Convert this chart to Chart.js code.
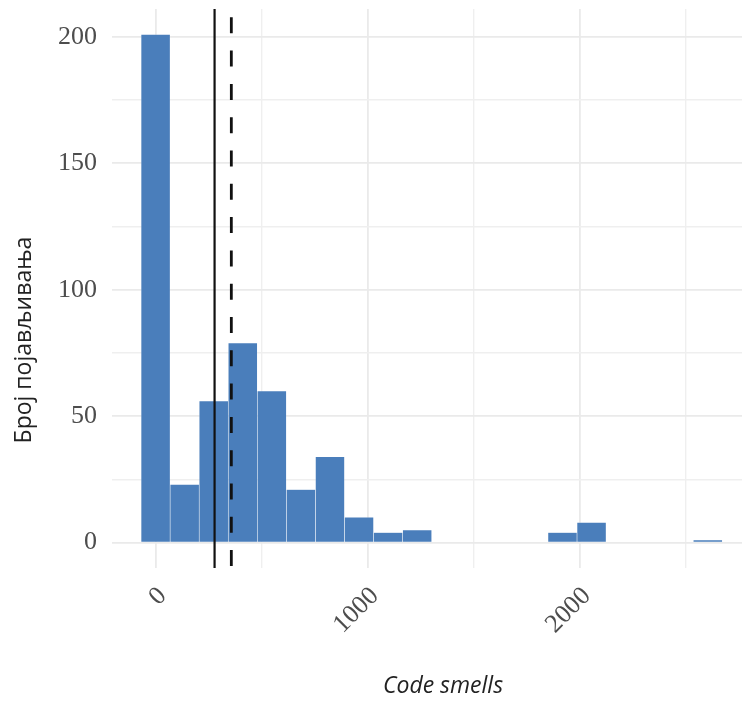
<!DOCTYPE html>
<html><head><meta charset="utf-8">
<script src="https://cdn.jsdelivr.net/npm/chart.js@4/dist/chart.umd.min.js"></script>
<style>html,body{margin:0;padding:0;overflow:hidden;background:#fff;width:742px;height:702px}canvas{display:block}</style>
</head><body>
<canvas id="c" width="774" height="702"></canvas>
<script>
// Histogram bins (centres) and counts
const binCenters = [0, 137, 274, 411, 548, 685, 822, 959, 1096, 1233, 1370, 1507, 1644, 1781, 1918, 2055, 2192, 2329, 2466, 2603];
const binCounts  = [201, 23, 56, 79, 60, 21, 34, 10, 4, 5, 0, 0, 0, 0, 4, 8, 0, 0, 0, 1];
const medianValue = 278;   // solid line
const meanValue = 357;     // dashed line
const xGridValues = [0, 500, 1000, 1500, 2000, 2500];
const xLabelValues = [0, 1000, 2000];
const yGridValues = [0, 25, 50, 75, 100, 125, 150, 175, 200];
const yLabelValues = [0, 50, 100, 150, 200];
const xTitle = 'Code smells';
const yTitle = 'Број појављивања';

const refLines = {
  id: 'refLines',
  afterDatasetsDraw(chart) {
    const {ctx, chartArea: {top, bottom}, scales: {x}} = chart;
    ctx.save();
    ctx.strokeStyle = '#111';
    ctx.lineWidth = 2.2;
    let px = x.getPixelForValue(medianValue);
    ctx.beginPath(); ctx.moveTo(px, top); ctx.lineTo(px, bottom); ctx.stroke();
    ctx.lineWidth = 2.8;
    ctx.setLineDash([16, 17.3]);
    ctx.lineDashOffset = 25;
    px = x.getPixelForValue(meanValue);
    ctx.beginPath(); ctx.moveTo(px, top); ctx.lineTo(px, bottom); ctx.stroke();
    ctx.restore();
  }
};

const yTitlePlugin = {
  id: 'yTitlePlugin',
  afterDraw(chart) {
    const ctx = chart.ctx;
    ctx.save();
    ctx.translate(24, 340);
    ctx.rotate(-Math.PI / 2);
    ctx.textAlign = 'center';
    ctx.textBaseline = 'middle';
    ctx.fillStyle = '#222';
    ctx.font = '23px "Open Sans", sans-serif';
    ctx.fillText(yTitle, 0, 0);
    ctx.restore();
  }
};

new Chart(document.getElementById('c'), {
  type: 'bar',
  data: {
    datasets: [{
      data: binCenters.map((c, i) => ({x: c, y: binCounts[i]})),
      backgroundColor: '#4a7ebb',
      borderColor: 'rgba(255,255,255,0.25)',
      borderWidth: 0.6,
      barPercentage: 1,
      categoryPercentage: 1
    }]
  },
  options: {
    responsive: false,
    animation: false,
    events: [],
    layout: {padding: {top: 9, left: 0, right: 0, bottom: 0}},
    plugins: {legend: {display: false}, tooltip: {enabled: false}},
    scales: {
      x: {
        type: 'linear',
        offset: false,
        min: -205.5,
        max: 2915,
        afterBuildTicks: s => { s.ticks = xGridValues.map(v => ({value: v})); },
        afterFit: s => { s.height = 134; s.paddingLeft = 0; s.paddingRight = 0; },
        border: {display: false},
        grid: {
          offset: false,
          drawTicks: false,
          color: c => xLabelValues.includes(c.tick && c.tick.value) ? '#eaeaea' : '#efefef',
          lineWidth: c => xLabelValues.includes(c.tick && c.tick.value) ? 1.8 : 1.4
        },
        ticks: {
          autoSkip: false,
          minRotation: 45, maxRotation: 45,
          padding: 13,
          labelOffset: 7,
          color: '#4d4d4d',
          font: {family: '"Liberation Serif", serif', size: 26},
          callback: v => xLabelValues.includes(v) ? String(v) : ''
        },
        title: {
          display: true, text: xTitle, color: '#222',
          font: {family: '"Open Sans", sans-serif', size: 23, style: 'italic'},
          padding: {top: 0, bottom: 2}
        }
      },
      y: {
        min: -10.05,
        max: 211.05,
        afterBuildTicks: s => { s.ticks = yGridValues.map(v => ({value: v})); },
        afterFit: s => { s.width = 112; s.paddingTop = 0; s.paddingBottom = 0; },
        border: {display: false},
        grid: {
          drawTicks: false,
          color: c => yLabelValues.includes(c.tick && c.tick.value) ? '#eaeaea' : '#efefef',
          lineWidth: c => yLabelValues.includes(c.tick && c.tick.value) ? 1.8 : 1.4
        },
        ticks: {
          padding: 15,
          color: '#4d4d4d',
          font: {family: '"Liberation Serif", serif', size: 26},
          callback: v => yLabelValues.includes(v) ? String(v) : ''
        },
        title: {display: false}
      }
    }
  },
  plugins: [refLines, yTitlePlugin]
});
</script>
</body></html>
